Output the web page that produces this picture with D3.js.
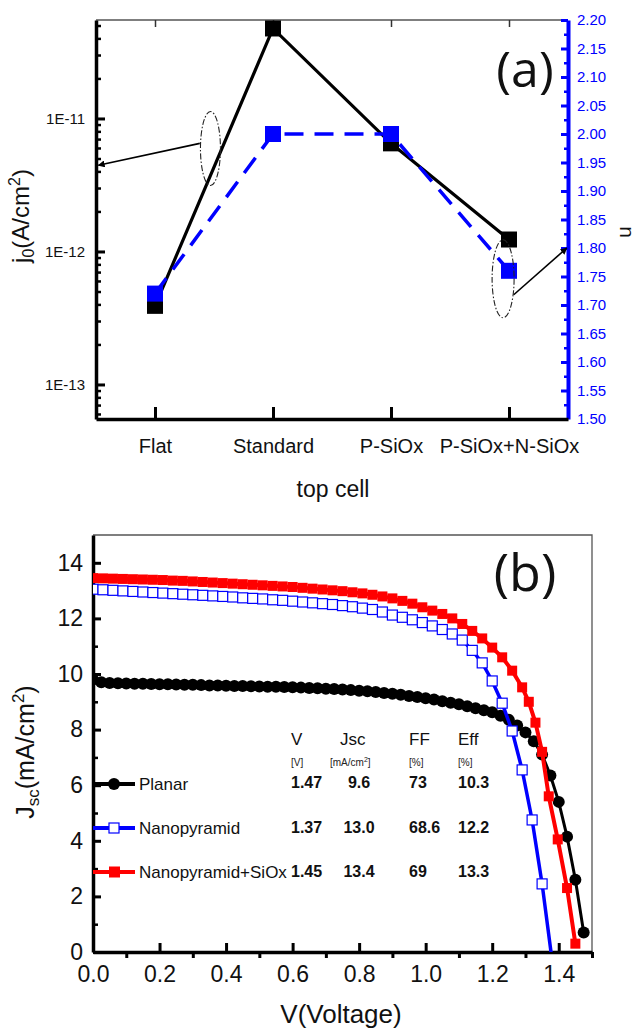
<!DOCTYPE html>
<html>
<head>
<meta charset="utf-8">
<script src="https://cdn.jsdelivr.net/npm/d3@7"></script>
<style>
  body { margin: 0; background: #fff; }
  svg { display: block; font-family: "Liberation Sans", Arial, sans-serif; }
</style>
</head>
<body>
<svg id="chart" width="642" height="1030"></svg>
<script>
// ---- panel (a) data ----
const cells = ['Flat', 'Standard', 'P-SiOx', 'P-SiOx+N-SiOx'];
const j0 = [3.9e-13, 4.75e-11, 6.5e-12, 1.23e-12];   // A/cm2
const nIdeal = [1.72, 2.00, 2.00, 1.76];
const j0Ticks = [1e-13, 1e-12, 1e-11];
const nTicks = [1.50, 1.55, 1.60, 1.65, 1.70, 1.75, 1.80, 1.85, 1.90, 1.95, 2.00, 2.05, 2.10, 2.15, 2.20];

// ---- panel (b) data : [V, Jsc] ----
const planar = [
  [0.000, 9.80], [0.025, 9.70], [0.050, 9.68], [0.075, 9.67], [0.100, 9.66], [0.125, 9.65],
  [0.150, 9.65], [0.175, 9.64], [0.200, 9.63], [0.225, 9.63], [0.250, 9.62], [0.275, 9.61],
  [0.300, 9.61], [0.325, 9.60], [0.350, 9.59], [0.375, 9.59], [0.400, 9.58], [0.425, 9.57],
  [0.450, 9.57], [0.475, 9.56], [0.500, 9.55], [0.525, 9.54], [0.550, 9.54], [0.575, 9.53],
  [0.600, 9.52], [0.625, 9.51], [0.650, 9.50], [0.675, 9.49], [0.700, 9.47], [0.725, 9.46],
  [0.750, 9.44], [0.775, 9.42], [0.800, 9.40], [0.825, 9.38], [0.850, 9.35], [0.875, 9.32],
  [0.900, 9.29], [0.925, 9.25], [0.950, 9.21], [0.975, 9.17], [1.000, 9.13], [1.025, 9.08],
  [1.050, 9.02], [1.075, 8.97], [1.100, 8.91], [1.125, 8.84], [1.150, 8.77], [1.175, 8.70],
  [1.200, 8.62], [1.225, 8.50], [1.250, 8.35], [1.275, 8.15], [1.300, 7.90], [1.325, 7.58],
  [1.350, 7.10], [1.375, 6.35], [1.400, 5.40], [1.425, 4.15], [1.450, 2.60], [1.475, 0.70]
];
const nanopyramid = [
  [0.00, 13.05], [0.03, 13.03], [0.06, 13.01], [0.09, 12.99], [0.12, 12.97], [0.15, 12.95],
  [0.18, 12.93], [0.21, 12.91], [0.24, 12.89], [0.27, 12.87], [0.30, 12.85], [0.33, 12.83],
  [0.36, 12.81], [0.39, 12.79], [0.42, 12.77], [0.45, 12.74], [0.48, 12.72], [0.51, 12.70],
  [0.54, 12.67], [0.57, 12.65], [0.60, 12.62], [0.63, 12.59], [0.66, 12.56], [0.69, 12.53],
  [0.72, 12.50], [0.75, 12.46], [0.78, 12.42], [0.81, 12.37], [0.84, 12.32], [0.87, 12.23],
  [0.90, 12.12], [0.93, 12.04], [0.96, 11.95], [0.99, 11.85], [1.02, 11.73], [1.05, 11.60],
  [1.08, 11.44], [1.11, 11.22], [1.14, 10.85], [1.17, 10.40], [1.20, 9.75], [1.23, 8.95],
  [1.26, 7.95], [1.29, 6.55], [1.32, 4.75], [1.35, 2.45], [1.38, -0.30]
];
const nanopyramidSiOx = [
  [0.00, 13.45], [0.03, 13.44], [0.06, 13.43], [0.09, 13.42], [0.12, 13.41], [0.15, 13.40],
  [0.18, 13.39], [0.21, 13.38], [0.24, 13.36], [0.27, 13.35], [0.30, 13.33], [0.33, 13.31],
  [0.36, 13.29], [0.39, 13.27], [0.42, 13.25], [0.45, 13.23], [0.48, 13.21], [0.51, 13.19],
  [0.54, 13.17], [0.57, 13.15], [0.60, 13.13], [0.63, 13.10], [0.66, 13.07], [0.69, 13.04],
  [0.72, 13.01], [0.75, 12.98], [0.78, 12.94], [0.81, 12.90], [0.84, 12.85], [0.87, 12.79],
  [0.90, 12.72], [0.93, 12.63], [0.96, 12.53], [0.99, 12.40], [1.02, 12.28], [1.05, 12.16],
  [1.08, 12.00], [1.11, 11.80], [1.14, 11.55], [1.17, 11.28], [1.20, 10.95], [1.23, 10.60],
  [1.26, 10.12], [1.29, 9.52], [1.31, 9.00], [1.33, 8.25], [1.35, 7.20], [1.37, 5.60],
  [1.397, 4.05], [1.425, 2.30], [1.45, 0.30]
];
const jTicks = [0, 2, 4, 6, 8, 10, 12, 14];
const vTicks = [0.0, 0.2, 0.4, 0.6, 0.8, 1.0, 1.2, 1.4];

const tableHead = ['V', 'Jsc', 'FF', 'Eff'];
const tableRows = [
  ['1.47', '9.6', '73', '10.3'],
  ['1.37', '13.0', '68.6', '12.2'],
  ['1.45', '13.4', '69', '13.3']
];

const svg = d3.select('#chart');

// ================= panel (a) =================
const a = { left: 96, right: 568, top: 20, bottom: 419 };

const xA = d3.scaleLinear().domain([0.5, 4.5]).range([a.left, a.right]);
const yJ0 = d3.scaleLog().domain([5.5e-14, 5.5e-11]).range([a.bottom, a.top]);
const yN = d3.scaleLinear().domain([1.5, 2.2]).range([a.bottom, a.top]);

const gA = svg.append('g');

// top frame line + small ticks
gA.append('line')
  .attr('x1', a.left).attr('x2', a.right)
  .attr('y1', a.top).attr('y2', a.top)
  .attr('stroke', '#555').attr('stroke-width', 1.5);

const topAxisG = gA.append('g')
  .attr('transform', `translate(0,${a.top})`)
  .call(d3.axisTop(xA).tickValues([1, 2, 3, 4]).tickSize(-7).tickFormat(''));
topAxisG.select('.domain').remove();
topAxisG.selectAll('line').attr('stroke', '#333').attr('stroke-width', 1.5);

// minor log ticks
const minorLog = [];
[-14, -13, -12, -11].forEach(e => {
  for (let m = 2; m <= 9; m++) {
    const v = m * Math.pow(10, e);
    if (v > yJ0.domain()[0] && v < yJ0.domain()[1]) minorLog.push(v);
  }
});
const leftMinorG = gA.append('g')
  .attr('transform', `translate(${a.left},0)`)
  .call(d3.axisLeft(yJ0).tickValues(minorLog).tickSize(-5).tickFormat(''));
leftMinorG.select('.domain').remove();
leftMinorG.selectAll('line').attr('stroke', '#000').attr('stroke-width', 2.5);

const leftAxisG = gA.append('g')
  .attr('transform', `translate(${a.left},0)`)
  .call(d3.axisLeft(yJ0)
    .tickValues(j0Ticks)
    .tickFormat(d => '1E' + Math.round(Math.log10(d)))
    .tickSize(-9).tickSizeOuter(0).tickPadding(11));
leftAxisG.select('.domain').attr('stroke', '#000').attr('stroke-width', 3.5);
leftAxisG.selectAll('line').attr('stroke', '#000').attr('stroke-width', 3);
leftAxisG.selectAll('text').attr('font-size', 15).attr('fill', '#111')
  .attr('font-family', '"Liberation Sans", Arial, sans-serif');

// right axis (n), blue
const nMinor = d3.range(1.525, 2.2, 0.05);
const rightMinorG = gA.append('g')
  .attr('transform', `translate(${a.right},0)`)
  .call(d3.axisRight(yN).tickValues(nMinor).tickSize(-4).tickFormat(''));
rightMinorG.select('.domain').remove();
rightMinorG.selectAll('line').attr('stroke', '#0000ff').attr('stroke-width', 2.5);

const rightAxisG = gA.append('g')
  .attr('transform', `translate(${a.right},0)`)
  .call(d3.axisRight(yN).tickValues(nTicks).tickFormat(d3.format('.2f'))
    .tickSize(-7).tickSizeOuter(0).tickPadding(9));
rightAxisG.select('.domain').attr('stroke', '#0000ff').attr('stroke-width', 4);
rightAxisG.selectAll('line').attr('stroke', '#0000ff').attr('stroke-width', 3);
rightAxisG.selectAll('text').attr('font-size', 15).attr('fill', '#0000ff')
  .attr('font-family', '"Liberation Sans", Arial, sans-serif');

// bottom axis (categories)
const bottomAxisG = gA.append('g')
  .attr('transform', `translate(0,${a.bottom})`)
  .call(d3.axisBottom(xA).tickValues([1, 2, 3, 4])
    .tickFormat(d => cells[d - 1])
    .tickSize(-12).tickSizeOuter(0).tickPadding(20));
bottomAxisG.select('.domain').attr('stroke', '#000').attr('stroke-width', 3.5);
bottomAxisG.selectAll('line').attr('stroke', '#000').attr('stroke-width', 3);
bottomAxisG.selectAll('text').attr('font-size', 20).attr('fill', '#111')
  .attr('font-family', '"Liberation Sans", Arial, sans-serif');

// series: j0 (black) then n (blue dashed)
const lineJ0 = d3.line().x((d, i) => xA(i + 1)).y(d => yJ0(d));
const lineN = d3.line().x((d, i) => xA(i + 1)).y(d => yN(d));

gA.append('path')
  .attr('d', lineJ0(j0))
  .attr('fill', 'none').attr('stroke', '#000').attr('stroke-width', 3.2);
gA.selectAll('.sqJ').data(j0).enter().append('rect')
  .attr('class', 'sqJ')
  .attr('x', (d, i) => xA(i + 1) - 8).attr('y', d => yJ0(d) - 8)
  .attr('width', 16).attr('height', 16).attr('fill', '#000');

gA.append('path')
  .attr('d', lineN(nIdeal))
  .attr('fill', 'none').attr('stroke', '#0000ff').attr('stroke-width', 3.5)
  .attr('stroke-dasharray', '19,11');
gA.selectAll('.sqN').data(nIdeal).enter().append('rect')
  .attr('class', 'sqN')
  .attr('x', (d, i) => xA(i + 1) - 8).attr('y', d => yN(d) - 8)
  .attr('width', 16).attr('height', 16).attr('fill', '#0000ff');

// callouts: ellipse + arrow pointing to the axis each series belongs to
svg.append('defs').append('marker')
  .attr('id', 'arrow')
  .attr('viewBox', '0 0 10 10').attr('refX', 9).attr('refY', 5)
  .attr('markerWidth', 7).attr('markerHeight', 7)
  .attr('markerUnits', 'userSpaceOnUse')
  .attr('orient', 'auto')
  .append('path').attr('d', 'M0,0L10,5L0,10z').attr('fill', '#000');

const callJ = { cx: xA(1.47), cy: yJ0(5.94e-12), x1: xA(1.38), y1: yJ0(6.5e-12), x2: xA(0.52), y2: yJ0(4.45e-12) };
const callN = { cx: xA(3.95), cy: yN(1.746), x1: xA(4.04), y1: yN(1.718), x2: xA(4.49), y2: yN(1.80) };

[callJ, callN].forEach((c, i) => {
  gA.append('ellipse')
    .attr('cx', c.cx).attr('cy', c.cy)
    .attr('rx', i === 0 ? 10 : 11).attr('ry', i === 0 ? 37 : 39)
    .attr('fill', 'none').attr('stroke', '#222').attr('stroke-width', 1.1)
    .attr('stroke-dasharray', '6,2,1.5,2');
  gA.append('line')
    .attr('x1', c.x1).attr('y1', c.y1).attr('x2', c.x2).attr('y2', c.y2)
    .attr('stroke', '#000').attr('stroke-width', 1.6)
    .attr('marker-end', 'url(#arrow)');
});

// axis titles
const j0Title = gA.append('text')
  .attr('transform', `translate(29,216) rotate(-90)`)
  .attr('text-anchor', 'middle').attr('font-size', 24).attr('fill', '#111');
j0Title.append('tspan').text('j');
j0Title.append('tspan').text('0').attr('font-size', 16).attr('dy', 5);
j0Title.append('tspan').text('(A/cm').attr('dy', -5);
j0Title.append('tspan').text('2').attr('font-size', 16).attr('dy', -9);
j0Title.append('tspan').text(')').attr('dy', 9);

gA.append('text')
  .attr('transform', `translate(620,232) rotate(90)`)
  .attr('text-anchor', 'middle').attr('font-size', 21).attr('fill', '#111')
  .text('n');

gA.append('text')
  .attr('x', 333).attr('y', 497)
  .attr('text-anchor', 'middle').attr('font-size', 23).attr('fill', '#111')
  .text('top cell');

gA.append('text')
  .attr('x', 525).attr('y', 87)
  .attr('text-anchor', 'middle').attr('font-size', 50)
  .attr('font-family', '"Open Sans", sans-serif').attr('fill', '#111')
  .text('(a)');

// ================= panel (b) =================
const b = { left: 93, right: 592, top: 535, bottom: 952 };

const xV = d3.scaleLinear().domain([0, 1.5]).range([b.left, b.right]);
const yJ = d3.scaleLinear().domain([0, 15]).range([b.bottom, b.top]);

const gB = svg.append('g');

gB.append('clipPath').attr('id', 'clipB')
  .append('rect')
  .attr('x', b.left).attr('y', b.top)
  .attr('width', b.right - b.left).attr('height', b.bottom - b.top);

// thin top / right frame
gB.append('path')
  .attr('d', `M${b.left},${b.top}H${b.right}V${b.bottom}`)
  .attr('fill', 'none').attr('stroke', '#555').attr('stroke-width', 1.3);

// y axis
const yMinorG = gB.append('g')
  .attr('transform', `translate(${b.left},0)`)
  .call(d3.axisLeft(yJ).tickValues([1, 3, 5, 7, 9, 11, 13]).tickSize(-5).tickFormat(''));
yMinorG.select('.domain').remove();
yMinorG.selectAll('line').attr('stroke', '#000').attr('stroke-width', 2.5);

const yAxisG = gB.append('g')
  .attr('transform', `translate(${b.left},0)`)
  .call(d3.axisLeft(yJ).tickValues(jTicks).tickFormat(d3.format('d'))
    .tickSize(-8).tickSizeOuter(0).tickPadding(10));
yAxisG.select('.domain').attr('stroke', '#000').attr('stroke-width', 3.5);
yAxisG.selectAll('line').attr('stroke', '#000').attr('stroke-width', 3);
yAxisG.selectAll('text').attr('font-size', 23).attr('fill', '#111')
  .attr('font-family', '"Liberation Sans", Arial, sans-serif');

// x axis: majors inward, minors outward
const xMinorG = gB.append('g')
  .attr('transform', `translate(0,${b.bottom})`)
  .call(d3.axisBottom(xV).tickValues([0.1, 0.3, 0.5, 0.7, 0.9, 1.1, 1.3, 1.5]).tickSize(6).tickFormat(''));
xMinorG.select('.domain').remove();
xMinorG.selectAll('line').attr('stroke', '#000').attr('stroke-width', 3);

const xAxisG = gB.append('g')
  .attr('transform', `translate(0,${b.bottom})`)
  .call(d3.axisBottom(xV).tickValues(vTicks).tickFormat(d3.format('.1f'))
    .tickSize(-9).tickSizeOuter(0).tickPadding(14));
xAxisG.select('.domain').attr('stroke', '#000').attr('stroke-width', 3.5);
xAxisG.selectAll('line').attr('stroke', '#000').attr('stroke-width', 3);
xAxisG.selectAll('text').attr('font-size', 23).attr('fill', '#111')
  .attr('font-family', '"Liberation Sans", Arial, sans-serif');

// curves
const ivLine = d3.line().x(d => xV(d[0])).y(d => yJ(d[1]));
const plot = gB.append('g').attr('clip-path', 'url(#clipB)');

plot.append('path').attr('d', ivLine(planar))
  .attr('fill', 'none').attr('stroke', '#000').attr('stroke-width', 3);
plot.selectAll('.cP').data(planar).enter().append('circle')
  .attr('class', 'cP')
  .attr('cx', d => xV(d[0])).attr('cy', d => yJ(d[1]))
  .attr('r', 6).attr('fill', '#000');

plot.append('path').attr('d', ivLine(nanopyramid))
  .attr('fill', 'none').attr('stroke', '#0000ff').attr('stroke-width', 3.5);
plot.selectAll('.sB').data(nanopyramid).enter().append('rect')
  .attr('class', 'sB')
  .attr('x', d => xV(d[0]) - 5).attr('y', d => yJ(d[1]) - 5)
  .attr('width', 10).attr('height', 10)
  .attr('fill', '#fff').attr('stroke', '#0000ff').attr('stroke-width', 1.2);

plot.append('path').attr('d', ivLine(nanopyramidSiOx))
  .attr('fill', 'none').attr('stroke', '#ff0000').attr('stroke-width', 4);
plot.selectAll('.sR').data(nanopyramidSiOx).enter().append('rect')
  .attr('class', 'sR')
  .attr('x', d => xV(d[0]) - 5).attr('y', d => yJ(d[1]) - 5)
  .attr('width', 10).attr('height', 10).attr('fill', '#ff0000');

// legend
const legend = [
  { name: 'Planar', color: '#000', shape: 'circle', y: 784 },
  { name: 'Nanopyramid', color: '#0000ff', shape: 'open', y: 828 },
  { name: 'Nanopyramid+SiOx', color: '#ff0000', shape: 'square', y: 872 }
];
legend.forEach(l => {
  gB.append('line')
    .attr('x1', b.left).attr('x2', 135).attr('y1', l.y).attr('y2', l.y)
    .attr('stroke', l.color).attr('stroke-width', 4);
  if (l.shape === 'circle') {
    gB.append('circle').attr('cx', 114).attr('cy', l.y).attr('r', 6).attr('fill', l.color);
  } else if (l.shape === 'open') {
    gB.append('rect').attr('x', 109).attr('y', l.y - 5).attr('width', 10).attr('height', 10)
      .attr('fill', '#fff').attr('stroke', l.color).attr('stroke-width', 1.2);
  } else {
    gB.append('rect').attr('x', 109).attr('y', l.y - 5.5).attr('width', 11).attr('height', 11)
      .attr('fill', l.color);
  }
  gB.append('text')
    .attr('x', 139).attr('y', l.y + 6)
    .attr('font-size', 17).attr('fill', '#111')
    .text(l.name);
});

// parameter table
const colX = [291, 340, 409, 458];
tableHead.forEach((h, i) => {
  gB.append('text').attr('x', colX[i]).attr('y', 745)
    .attr('font-size', 17).attr('fill', '#111').text(h);
});
const units = gB.append('g').attr('font-size', 10).attr('fill', '#222');
units.append('text').attr('x', 291).attr('y', 766).text('[V]');
const unitJ = units.append('text').attr('x', 330).attr('y', 766);
unitJ.append('tspan').text('[mA/cm');
unitJ.append('tspan').text('2').attr('font-size', 7).attr('dy', -4);
unitJ.append('tspan').text(']').attr('dy', 4);
units.append('text').attr('x', 409).attr('y', 766).text('[%]');
units.append('text').attr('x', 458).attr('y', 766).text('[%]');

const rowY = [788, 833, 877];
tableRows.forEach((row, r) => {
  row.forEach((v, i) => {
    gB.append('text')
      .attr('x', i === 1 ? 359 : colX[i]).attr('y', rowY[r])
      .attr('text-anchor', i === 1 ? 'middle' : 'start')
      .attr('font-size', 16).attr('font-weight', 'bold').attr('fill', '#111')
      .text(v);
  });
});

// axis titles
const jscTitle = gB.append('text')
  .attr('transform', `translate(34,752) rotate(-90)`)
  .attr('text-anchor', 'middle').attr('font-size', 25).attr('fill', '#111');
jscTitle.append('tspan').text('J');
jscTitle.append('tspan').text('sc').attr('font-size', 17).attr('dy', 5);
jscTitle.append('tspan').text('(mA/cm').attr('dy', -5);
jscTitle.append('tspan').text('2').attr('font-size', 17).attr('dy', -10);
jscTitle.append('tspan').text(')').attr('dy', 10);

gB.append('text')
  .attr('x', 341).attr('y', 1023)
  .attr('text-anchor', 'middle').attr('font-size', 26).attr('fill', '#111')
  .text('V(Voltage)');

gB.append('text')
  .attr('x', 525).attr('y', 591)
  .attr('text-anchor', 'middle').attr('font-size', 52)
  .attr('font-family', '"Open Sans", sans-serif').attr('fill', '#111')
  .text('(b)');
</script>
</body>
</html>
